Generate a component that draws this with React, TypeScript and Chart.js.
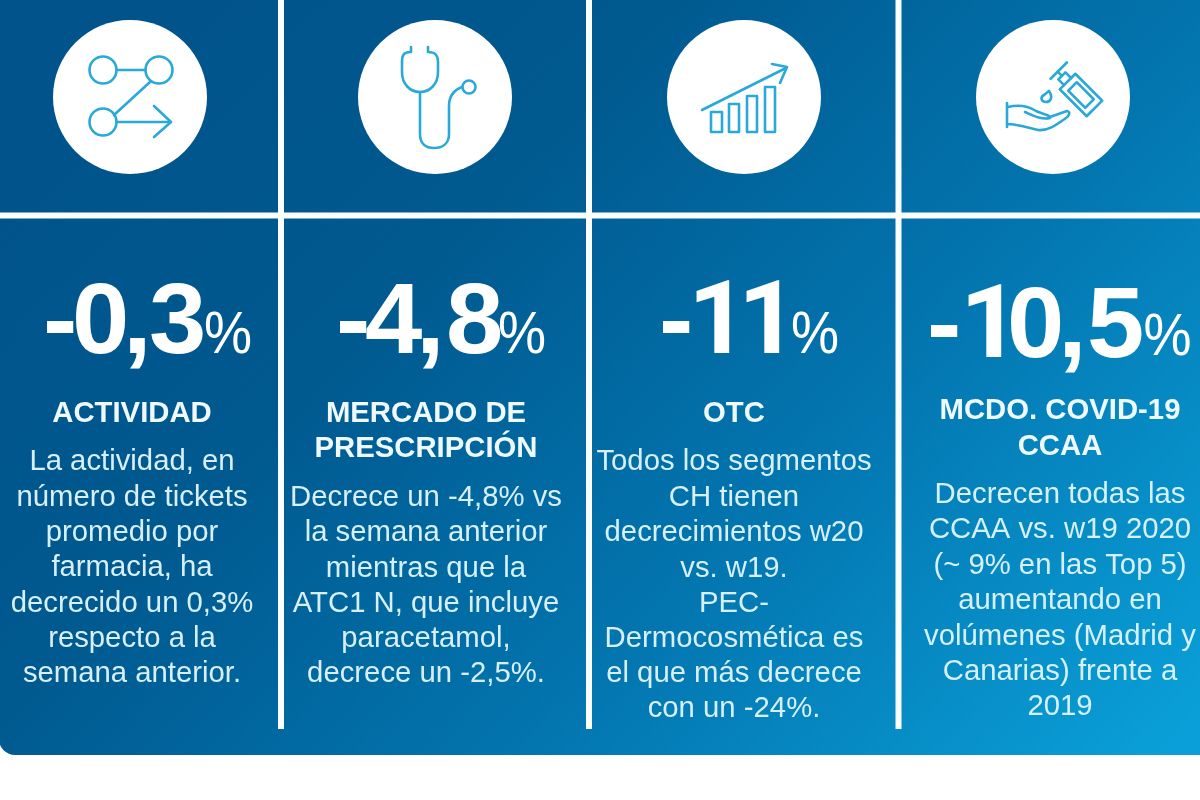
import React, { useEffect, useRef } from "react";
import { Chart, registerables } from "chart.js";

Chart.register(...registerables);

// ---- data ----
const categories = ["ACTIVIDAD", "MERCADO DE PRESCRIPCIÓN", "OTC", "MCDO. COVID-19 CCAA"];
const kpiValues = [-0.3, -4.8, -11, -10.5];
const headings = [["ACTIVIDAD"], ["MERCADO DE", "PRESCRIPCIÓN"], ["OTC"], ["MCDO. COVID-19", "CCAA"]];
const descriptions = [
  ["La actividad, en", "número de tickets", "promedio por", "farmacia, ha", "decrecido un 0,3%", "respecto a la", "semana anterior."],
  ["Decrece un -4,8% vs", "la semana anterior", "mientras que la", "ATC1 N, que incluye", "paracetamol,", "decrece un -2,5%."],
  ["Todos los segmentos", "CH tienen", "decrecimientos w20", "vs. w19.", "PEC-", "Dermocosmética es", "el que más decrece", "con un -24%."],
  ["Decrecen todas las", "CCAA vs. w19 2020", "(~ 9% en las Top 5)", "aumentando en", "volúmenes (Madrid y", "Canarias) frente a", "2019"],
];

// ---- layout ----
const W = 1200;
const H = 800;
const FONT = '"Liberation Sans", Arial, sans-serif';
const circleX = [130, 435, 744, 1053];
const circleY = 97;
const circleR = 77;
const panelBottom = 755;
const vLines = [281, 589, 898.5];
const hLine = 215.5;
const textCenter = [132, 426, 734, 1060];
const signX = [43, 336, 659, 927];
const glyphX = [
  [72, 123, 149],
  [365, 416, 446],
  [688, 738],
  [960, 1007, 1058, 1087],
];
const numScale = 1.03;
const numBase = [353, 353, 353, 357];
const pctX = [204, 498, 791, 1143.5];
const pctBase = [353, 353, 353, 355];
const headY = [[414], [414, 449], [414], [411, 447]];
const descY = [
  [462, 498, 533, 568, 604, 639, 674],
  [498, 533, 569, 604, 639, 674],
  [462, 498, 533, 569, 604, 639, 674, 709],
  [495, 530, 566, 601, 637, 672, 707],
];
const ICON = "#2aa8d8";

function line(ctx: CanvasRenderingContext2D, pts: number[][]) {
  ctx.beginPath();
  pts.forEach((p, i) => (i ? ctx.lineTo(p[0], p[1]) : ctx.moveTo(p[0], p[1])));
  ctx.stroke();
}
function ring(ctx: CanvasRenderingContext2D, x: number, y: number, r: number) {
  ctx.beginPath();
  ctx.arc(x, y, r, 0, Math.PI * 2);
  ctx.stroke();
}

function drawIcons(ctx: CanvasRenderingContext2D) {
  ctx.save();
  ctx.strokeStyle = ICON;
  ctx.lineWidth = 2.6;
  ctx.lineCap = "round";
  ctx.lineJoin = "round";
  // route
  ring(ctx, 103, 70, 13.5);
  ring(ctx, 159, 70, 13.5);
  ring(ctx, 103, 122, 13.5);
  line(ctx, [[117, 70], [145, 70]]);
  line(ctx, [[150, 82], [114, 115]]);
  line(ctx, [[117, 122], [170, 122]]);
  line(ctx, [[154, 106], [171, 122], [154, 137]]);
  // stethoscope
  ctx.beginPath();
  ctx.moveTo(411, 47);
  ctx.lineTo(411, 52);
  ctx.bezierCurveTo(403, 52, 402, 56, 402, 62);
  ctx.lineTo(402, 72);
  ctx.bezierCurveTo(402, 84, 410, 92, 420, 92);
  ctx.bezierCurveTo(430, 92, 438, 84, 438, 72);
  ctx.lineTo(438, 62);
  ctx.bezierCurveTo(438, 56, 436, 52, 428, 52);
  ctx.lineTo(428, 47);
  ctx.stroke();
  ctx.beginPath();
  ctx.moveTo(420, 92);
  ctx.lineTo(420, 134);
  ctx.bezierCurveTo(420, 144, 426, 148, 434, 148);
  ctx.bezierCurveTo(442, 148, 449, 144, 449, 134);
  ctx.lineTo(449, 106);
  ctx.bezierCurveTo(449, 96, 454, 90, 462, 87);
  ctx.stroke();
  ring(ctx, 469, 87, 6.5);
  // growth
  line(ctx, [[702, 110], [786, 68]]);
  line(ctx, [[772, 64], [787, 67], [780, 83]]);
  [[711, 112, 11], [729, 104, 10], [747, 96, 10], [765, 87, 10]].forEach(([x, y, w]) => {
    ctx.strokeRect(x, y, w, 132 - y);
  });
  // hand sanitizer
  ctx.beginPath();
  ctx.moveTo(1007, 103);
  ctx.lineTo(1007, 127);
  ctx.moveTo(1008, 107);
  ctx.bezierCurveTo(1020, 104, 1028, 106, 1036, 111);
  ctx.bezierCurveTo(1042, 114, 1048, 114, 1050, 117);
  ctx.lineTo(1067, 111);
  ctx.bezierCurveTo(1071, 112, 1069, 116, 1066, 118);
  ctx.bezierCurveTo(1056, 125, 1048, 131, 1038, 130);
  ctx.bezierCurveTo(1028, 128, 1018, 124, 1008, 124);
  ctx.moveTo(1025, 112);
  ctx.bezierCurveTo(1034, 116, 1042, 120, 1050, 118);
  ctx.stroke();
  ctx.beginPath();
  ctx.moveTo(1049, 91);
  ctx.bezierCurveTo(1053, 97, 1051, 102, 1046, 102);
  ctx.bezierCurveTo(1041, 102, 1040, 97, 1044, 95);
  ctx.closePath();
  ctx.stroke();
  ctx.save();
  ctx.translate(1081, 95);
  ctx.rotate(Math.PI / 4);
  ctx.strokeRect(-19, -11, 38, 22);
  ctx.strokeRect(-12, -6, 24, 12);
  line(ctx, [[-19, -5], [-27, -5], [-27, 5], [-19, 5]]);
  line(ctx, [[-27, 0], [-33, 0]]);
  line(ctx, [[-33, -13], [-33, 10]]);
  ctx.restore();
  ctx.restore();
}

function scaledText(ctx: CanvasRenderingContext2D, t: string, x: number, y: number, sx: number) {
  ctx.save();
  ctx.translate(x, y);
  ctx.scale(sx, 1);
  ctx.fillText(t, 0, 0);
  ctx.restore();
}

const infographicPlugin = {
  id: "infographic",
  beforeDraw(chart: any) {
    const { ctx } = chart;
    ctx.save();
    ctx.clearRect(0, 0, W, H);
    ctx.fillStyle = "#ffffff";
    ctx.fillRect(0, 0, W, H);
    const g = ctx.createLinearGradient(230, -40, 1120, 800);
    g.addColorStop(0, "#00548b");
    g.addColorStop(0.28, "#00598f");
    g.addColorStop(0.62, "#0375af");
    g.addColorStop(1, "#0a9fd8");
    ctx.fillStyle = g;
    ctx.beginPath();
    ctx.roundRect(-1, -1, W + 2, panelBottom + 1, [4, 0, 0, 16]);
    ctx.fill();
    ctx.fillStyle = "#fbfeff";
    vLines.forEach((x) => ctx.fillRect(x - 3, 0, 6, 729));
    ctx.fillRect(0, hLine - 3, W, 6);
    ctx.restore();
  },
  afterDraw(chart: any) {
    const { ctx } = chart;
    drawIcons(ctx);
    ctx.save();
    ctx.textBaseline = "alphabetic";
    ctx.textAlign = "left";
    ctx.fillStyle = "#ffffff";
    kpiValues.forEach((v, i) => {
      const num = Math.abs(v).toString().replace(".", ",");
      ctx.font = `bold 100px ${FONT}`;
      scaledText(ctx, "-", signX[i], numBase[i], numScale);
      Array.from(num).forEach((ch, k) => {
        // the reference's "1" has no foot, which Liberation's has
        ctx.font = ch === "1" ? "bold 102px Roboto, sans-serif" : `bold 100px ${FONT}`;
        scaledText(ctx, ch, glyphX[i][k], numBase[i], numScale);
      });
      ctx.font = `60px ${FONT}`;
      scaledText(ctx, "%", pctX[i], pctBase[i], 0.9);
    });
    ctx.textAlign = "center";
    ctx.textBaseline = "middle";
    ctx.fillStyle = "#eef9fd";
    headings.forEach((lines, i) => {
      ctx.font = `bold 29.3px ${FONT}`;
      lines.forEach((t, j) => ctx.fillText(t, textCenter[i], headY[i][j]));
    });
    ctx.fillStyle = "#d6f0fa";
    descriptions.forEach((lines, i) => {
      ctx.font = `29.3px ${FONT}`;
      lines.forEach((t, j) => ctx.fillText(t, textCenter[i], descY[i][j]));
    });
    ctx.restore();
  },
};

export default function App() {
  const ref = useRef<HTMLCanvasElement>(null);
  useEffect(() => {
    document.body.style.margin = "0";
    const chart = new Chart(ref.current!, {
      type: "scatter",
      data: {
        labels: categories,
        datasets: [
          {
            label: "Indicadores",
            data: categories.map((_, i) => ({ x: circleX[i], y: circleY })),
            pointRadius: circleR,
            pointHoverRadius: circleR,
            pointBackgroundColor: "#ffffff",
            pointBorderWidth: 0,
            clip: false,
          },
        ],
      },
      options: {
        animation: false,
        responsive: false,
        layout: { padding: 0, autoPadding: false },
        plugins: { legend: { display: false }, tooltip: { enabled: false } },
        scales: {
          x: { type: "linear", display: false, min: 0, max: W },
          y: { type: "linear", display: false, min: 0, max: H, reverse: true },
        },
      },
      plugins: [infographicPlugin],
    });
    return () => chart.destroy();
  }, []);
  return <canvas ref={ref} width={W} height={H} style={{ display: "block", width: W, height: H, filter: "blur(0.5px)" }} />;
}
